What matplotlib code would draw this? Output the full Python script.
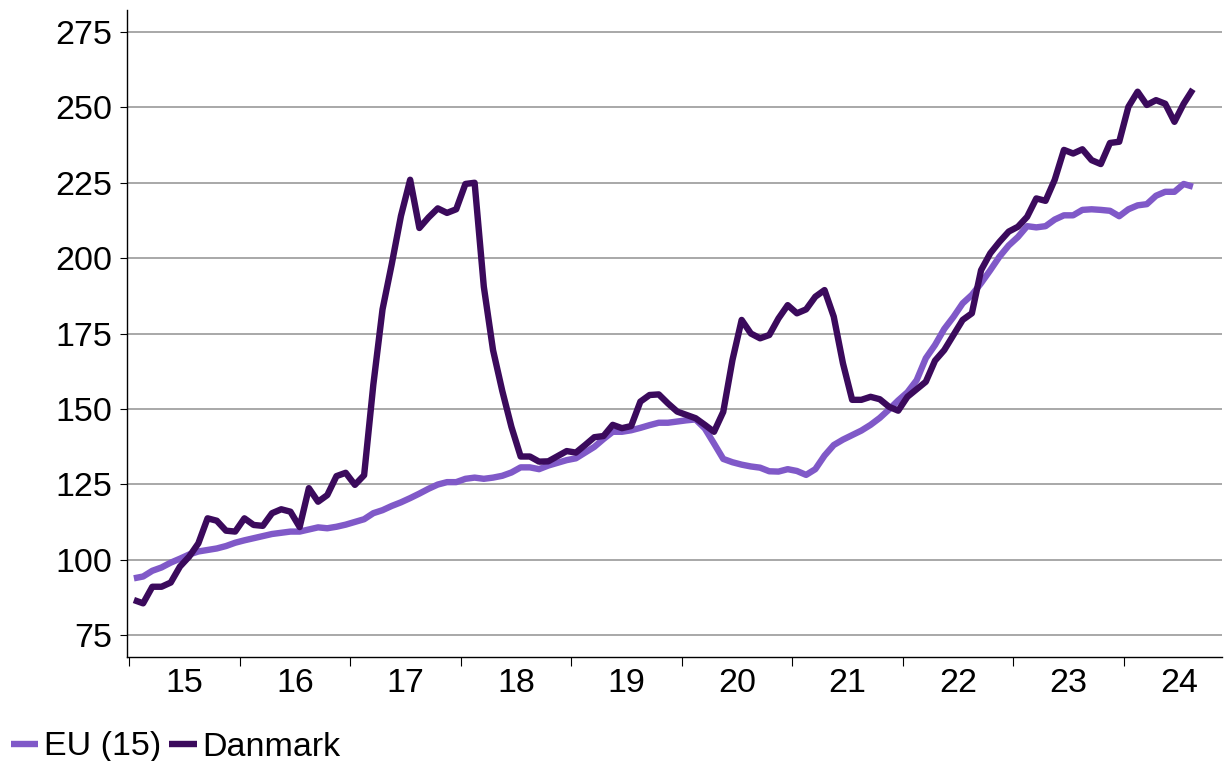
import numpy as np
import matplotlib
matplotlib.use("Agg")
import matplotlib.pyplot as plt
from matplotlib.ticker import FixedLocator, NullFormatter, FixedFormatter

plt.rcParams['font.family'] = ['Liberation Sans', 'DejaVu Sans']

# monthly index values, Jan 2015 - Aug 2024
eu15 = [
    93.8, 94.4, 96.3, 97.4, 99.0, 100.3, 101.7, 102.7, 103.2, 103.7, 104.5, 105.6,
    106.4, 107.1, 107.8, 108.5, 108.9, 109.3, 109.3, 110.0, 110.7, 110.4, 110.9, 111.6,
    112.5, 113.4, 115.4, 116.4, 117.8, 119.0, 120.4, 121.9, 123.5, 124.9, 125.7, 125.7,
    126.8, 127.2, 126.8, 127.2, 127.8, 128.9, 130.6, 130.6, 130.0, 131.2, 132.1, 133.0,
    133.6, 135.5, 137.4, 140.0, 142.4, 142.4, 142.9, 143.7, 144.6, 145.4, 145.4, 145.8,
    146.2, 146.5, 143.5, 138.5, 133.4, 132.3, 131.5, 130.9, 130.5, 129.3, 129.2, 130.0,
    129.4, 128.1, 130.0, 134.5, 138.0, 139.8, 141.3, 142.8, 144.7, 147.0, 149.8, 152.8,
    155.5, 159.5, 166.8, 171.2, 176.5, 180.5, 185.0, 187.8, 191.7, 196.0, 200.5, 204.2,
    207.0, 210.6, 210.2, 210.6, 212.8, 214.2, 214.2, 216.0, 216.2, 216.0, 215.7, 213.9,
    216.2, 217.5, 217.9, 220.7, 222.0, 222.0, 224.6, 223.7,
]
danmark = [
    86.6, 85.5, 91.0, 91.0, 92.4, 97.7, 101.0, 105.4, 113.7, 112.9, 109.6, 109.3,
    113.7, 111.5, 111.2, 115.4, 116.7, 115.9, 110.8, 123.7, 119.2, 121.4, 127.7, 128.8,
    124.8, 128.0, 158.0, 183.0, 198.0, 214.0, 226.0, 210.0, 213.5, 216.5, 215.0, 216.2,
    224.6, 225.0, 190.5, 169.5, 156.0, 144.0, 134.2, 134.2, 132.5, 132.6, 134.3, 136.0,
    135.5, 138.0, 140.6, 141.0, 144.7, 143.6, 144.3, 152.4, 154.6, 154.8, 151.8, 149.1,
    148.0, 146.9, 144.7, 142.4, 149.0, 166.2, 179.5, 175.0, 173.4, 174.5, 180.0, 184.4,
    181.7, 183.0, 187.2, 189.4, 180.6, 165.1, 153.0, 153.0, 154.0, 153.2, 150.7, 149.4,
    154.0, 156.5, 159.0, 166.0, 169.5, 174.5, 179.5, 181.7, 196.0, 201.6, 205.4, 208.8,
    210.4, 213.7, 219.8, 219.0, 226.0, 235.9, 234.7, 236.1, 232.5, 231.2, 238.2, 238.6,
    250.2, 255.2, 250.8, 252.4, 251.2, 245.2, 251.2, 256.0,
]
years = list(range(2015, 2025))
year_labels = [str(y)[2:] for y in years]
y_ticks = [75, 100, 125, 150, 175, 200, 225, 250, 275]

first_year = 2015
t = first_year + (np.arange(len(eu15)) + 0.5) / 12.0

W, H = 1224, 761
fig = plt.figure(figsize=(W / 100, H / 100), dpi=100)
ax = fig.add_axes([127.3 / W, (H - 657) / H, (1222 - 127.3) / W, (657 - 10) / H])

c_eu = '#8059c8'
c_dk = '#3b0a5c'
ax.plot(t, eu15, color=c_eu, lw=4.6, solid_joinstyle='round', solid_capstyle='butt', label='EU (15)')
ax.plot(t, danmark, color=c_dk, lw=4.6, solid_joinstyle='round', solid_capstyle='butt', label='Danmark')

ax.set_xlim(2015 - 2 / 110.5, 2015 + (1222 - 129.3) / 110.5)
ax.set_ylim(67.7, 282.3)

ax.set_yticks(y_ticks)
ax.yaxis.grid(True, color='#9a9a9a', lw=1.2)
ax.set_axisbelow(True)
ax.tick_params(axis='y', length=5, width=0.8, pad=6, labelsize=24.5, colors='black')

ax.xaxis.set_major_locator(FixedLocator(years))
ax.xaxis.set_major_formatter(NullFormatter())
ax.xaxis.set_minor_locator(FixedLocator([y + 0.5 for y in years]))
ax.xaxis.set_minor_formatter(FixedFormatter(year_labels))
ax.tick_params(axis='x', which='major', length=6.5, width=0.8)
ax.tick_params(axis='x', which='minor', length=0, pad=8, labelsize=24.5)

for s in ['top', 'right']:
    ax.spines[s].set_visible(False)
for s in ['left', 'bottom']:
    ax.spines[s].set_color('black')
    ax.spines[s].set_linewidth(1.0)

fig.legend(loc='center left', bbox_to_anchor=(11 / W, 1 - 747 / H), ncol=2, frameon=False,
           fontsize=24.5, handlelength=0.8, handletextpad=0.16, columnspacing=0.25,
           borderpad=0, borderaxespad=0)

fig.savefig('out.png', dpi=100)
